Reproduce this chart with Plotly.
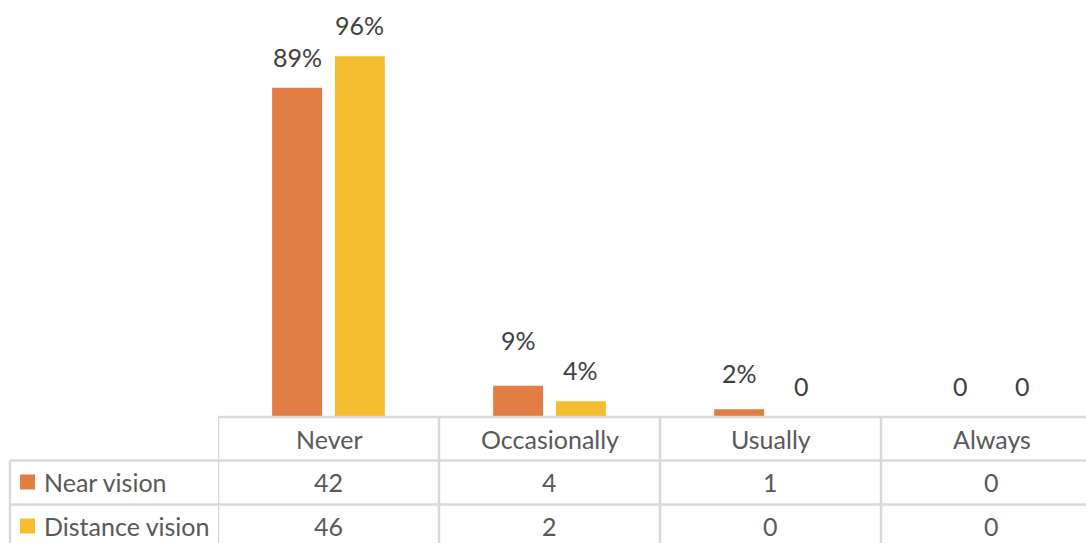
import plotly.graph_objects as go

# ---------------- data ----------------
categories = ["Never", "Occasionally", "Usually", "Always"]
series_names = ["Near vision", "Distance vision"]
near_counts = [42, 4, 1, 0]
distance_counts = [46, 2, 0, 0]
near_labels = ["89%", "9%", "2%", "0"]
distance_labels = ["96%", "4%", "0", "0"]

# ---------------- style ----------------
W, H = 1086, 543
ORANGE = "#E27E43"
YELLOW = "#F5BD31"
GRID = "#D9D9D9"
TXT = "#595959"
LBL = "#404040"
FONT = "Lato"
FS = 25

PLOT_LEFT = 218      # px, left edge of plot / table columns
BASE_Y = 417         # px, baseline of bars / top of table
TOP_Y = 25           # px, top of plot area
CAT_W = 221          # px, width of one category column
ROW_LINES = [460.5, 504.5]
HEADER_C = 439
ROW_C = [482, 526]
TABLE_LEFT = 10
BARGAP = 0.432
GROUPGAP = 0.204
HALF = (1 - BARGAP) / 4
LABEL_LIFT = 14
LABEL_NUDGE = {(0, 1): 15, (0, 2): 5}  # (series, category) -> extra px


def py(p):
    return 1 - p / H


def px(p):
    return p / W


series_counts = [near_counts, distance_counts]
series_labels = [near_labels, distance_labels]
colors = [ORANGE, YELLOW]

fig = go.Figure()
for name, vals, col in zip(series_names, series_counts, colors):
    fig.add_bar(x=categories, y=vals, name=name, marker_color=col,
                marker_line_width=0, showlegend=False)

x_end = -0.5 + (W - PLOT_LEFT) / CAT_W

annotations = []
# bar labels
for s, (vals, labs) in enumerate(zip(series_counts, series_labels)):
    sign = -1 if s == 0 else 1
    for j, (v, t) in enumerate(zip(vals, labs)):
        annotations.append(dict(
            x=j + sign * HALF, y=v, xref="x", yref="y", text=t,
            showarrow=False, yanchor="bottom", xanchor="center",
            yshift=LABEL_LIFT + LABEL_NUDGE.get((s, j), 0),
            font=dict(family=FONT, size=FS, color=LBL)))

# table header
for j, c in enumerate(categories):
    annotations.append(dict(x=j, y=py(HEADER_C), xref="x", yref="paper",
                            text=c, showarrow=False, yanchor="middle",
                            font=dict(family=FONT, size=FS, color=TXT)))
# table rows
shapes = []
for r, (name, vals, col) in enumerate(zip(series_names, series_counts, colors)):
    yc = ROW_C[r]
    for j, v in enumerate(vals):
        annotations.append(dict(x=j, y=py(yc), xref="x", yref="paper",
                                text=str(v), showarrow=False, yanchor="middle",
                                font=dict(family=FONT, size=FS, color=TXT)))
    annotations.append(dict(x=px(42), y=py(yc), xref="paper", yref="paper",
                            text=name, showarrow=False, xanchor="left",
                            yanchor="middle",
                            font=dict(family=FONT, size=FS, color=TXT)))
    shapes.append(dict(type="rect", xref="paper", yref="paper",
                       x0=px(20), x1=px(35), y0=py(yc + 7.5), y1=py(yc - 7.5),
                       fillcolor=col, line_width=0))

LW = 2.5
# top line of table (under plot)
shapes.append(dict(type="line", xref="paper", yref="paper",
                   x0=px(PLOT_LEFT), x1=1, y0=py(BASE_Y), y1=py(BASE_Y),
                   line=dict(color=GRID, width=LW)))
for yl in ROW_LINES:
    shapes.append(dict(type="line", xref="paper", yref="paper",
                       x0=px(TABLE_LEFT), x1=1, y0=py(yl), y1=py(yl),
                       line=dict(color=GRID, width=LW)))
# vertical lines at category boundaries
for j in range(len(categories)):
    shapes.append(dict(type="line", xref="x", yref="paper",
                       x0=j - 0.5, x1=j - 0.5, y0=py(BASE_Y), y1=0,
                       line=dict(color=GRID, width=LW)))
shapes.append(dict(type="line", xref="paper", yref="paper",
                   x0=px(TABLE_LEFT), x1=px(TABLE_LEFT), y0=py(ROW_LINES[0]), y1=0,
                   line=dict(color=GRID, width=LW)))

fig.update_layout(
    width=W, height=H,
    margin=dict(l=0, r=0, t=0, b=0),
    paper_bgcolor="white", plot_bgcolor="white",
    barmode="group", bargap=BARGAP, bargroupgap=GROUPGAP,
    xaxis=dict(domain=[px(PLOT_LEFT), 1], range=[-0.5, x_end],
               showticklabels=False, showgrid=False, zeroline=False,
               showline=False, ticks=""),
    yaxis=dict(domain=[py(BASE_Y), py(TOP_Y)], range=[0, 50], visible=False,
               showgrid=False, zeroline=False),
    annotations=annotations, shapes=shapes,
    font=dict(family=FONT, size=FS, color=TXT),
)

fig.write_html(
    "out.html",
    config={"displayModeBar": False},
    post_script="document.body.style.margin='0';document.body.style.overflow='hidden';",
)
